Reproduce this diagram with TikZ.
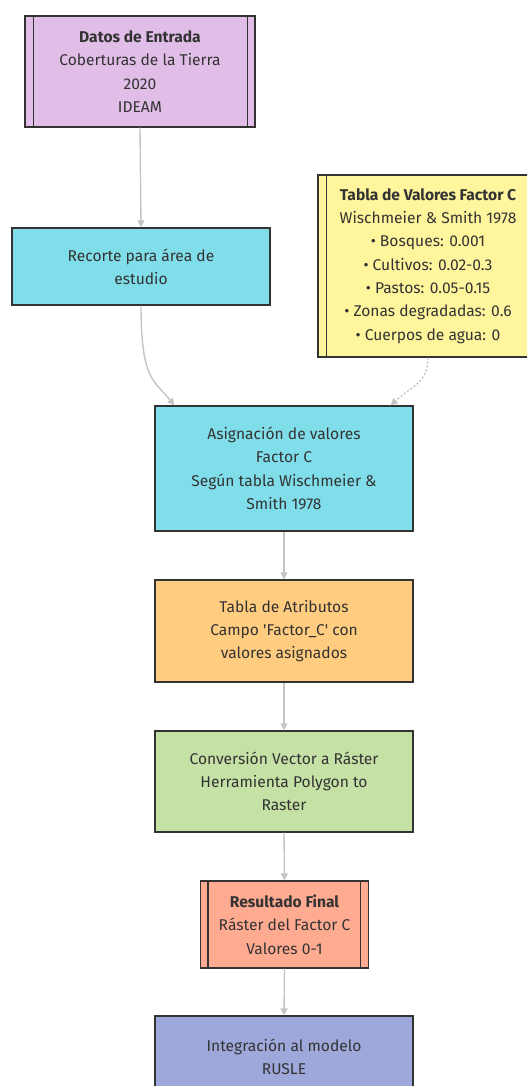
\documentclass[tikz,border=0pt]{standalone}
\usepackage{fontspec}
\setmainfont{Fira Sans}
\usetikzlibrary{arrows.meta,calc}

\definecolor{inkc}{HTML}{333333}
\definecolor{edgec}{HTML}{C4C4C4}
\definecolor{fpurple}{HTML}{E1BEE7}
\definecolor{fcyan}{HTML}{80DEEA}
\definecolor{fyellow}{HTML}{FFF59D}
\definecolor{forange}{HTML}{FFCC80}
\definecolor{fgreen}{HTML}{C5E1A5}
\definecolor{fsalmon}{HTML}{FFAB91}
\definecolor{findigo}{HTML}{9FA8DA}

\tikzset{
  box/.style={draw=inkc, line width=1.3pt, inner sep=0pt, align=center,
    text=inkc, font=\fontsize{15.6}{23.3}\selectfont},
  label/.style={inner sep=0pt, align=center, text=inkc,
    font=\fontsize{15.6}{23.3}\selectfont},
  flow/.style={draw=edgec, line width=1.4pt,
    -{Triangle[length=7pt,width=7pt]}},
  bar/.style={draw=inkc, line width=1.3pt},
}

\begin{document}
\begin{tikzpicture}[x=1pt,y=-1pt]
\useasboundingbox (0,0) rectangle (527,1086);
\clip (0,0) rectangle (527,1086);

% input data (subroutine box)
\node[box, fill=fpurple, minimum width=230pt, minimum height=111pt] (datos) at (140,71.5)
  {\textbf{Datos de Entrada}\\Coberturas de la Tierra\\2020\\IDEAM};
\draw[bar] ($(datos.north west)+(9,0)$) -- ($(datos.south west)+(9,0)$);
\draw[bar] ($(datos.north east)+(-8,0)$) -- ($(datos.south east)+(-8,0)$);

% clip to study area
\node[box, fill=fcyan, minimum width=258pt, minimum height=77pt] (recorte) at (141,266.5)
  {Recorte para área de\\estudio};

% C factor reference table (subroutine box, runs past the right margin)
\node[box, fill=fyellow, minimum width=220pt, minimum height=182pt] (tabla) at (428,266)
  {\textbf{Tabla de Valores Factor C}\\Wischmeier \& Smith 1978\\• Bosques: 0.001\\• Cultivos: 0.02-0.3\\• Pastos: 0.05-0.15\\• Zonas degradadas: 0.6\\• Cuerpos de agua: 0};
\draw[bar] ($(tabla.north west)+(9,0)$) -- ($(tabla.south west)+(9,0)$);

% value assignment
\node[box, fill=fcyan, minimum width=258pt, minimum height=125pt] (asig) at (284,468.5)
  {Asignación de valores\\Factor C\\Según tabla Wischmeier \&\\Smith 1978};

% attribute table
\node[box, fill=forange, minimum width=258pt, minimum height=102pt] (atrib) at (284,631)
  {Tabla de Atributos\\Campo \textquotesingle Factor\_C\textquotesingle\ con\\valores asignados};

% vector to raster
\node[box, fill=fgreen, minimum width=258pt, minimum height=101pt] (conv) at (284,781.5)
  {Conversión Vector a Ráster\\Herramienta Polygon to\\Raster};

% final result (subroutine box)
\node[box, fill=fsalmon, minimum width=168pt, minimum height=87pt] (res) at (284.5,924.5)
  {\textbf{Resultado Final}\\Ráster del Factor C\\Valores 0-1};
\draw[bar] ($(res.north west)+(8,0)$) -- ($(res.south west)+(8,0)$);
\draw[bar] ($(res.north east)+(-9,0)$) -- ($(res.south east)+(-9,0)$);

% RUSLE integration (cut by the bottom margin)
\node[box, fill=findigo, minimum width=258pt, minimum height=100pt] (rusle) at (284,1066) {};
\node[label] (rusletext) at (284,1056.5) {Integración al modelo\\RUSLE};

% connectors
\draw[flow] (datos.south) -- (recorte.north);
\coordinate (asigL) at ($(asig.north west)+(20,0)$);
\coordinate (asigR) at ($(asig.north east)+(-23,0)$);
\draw[flow] (recorte.south) .. controls ($(recorte.south)+(0,75)$) and ($(asigL)+(-20,-25)$) .. (asigL);
\draw[flow, dash pattern=on 2pt off 2pt] (tabla.south) .. controls ($(tabla.south)+(0,25)$) and ($(asigR)+(22,-20)$) .. (asigR);
\draw[flow] (asig.south) -- (atrib.north);
\draw[flow] (atrib.south) -- (conv.north);
\draw[flow] (conv.south) -- (res.north);
\draw[flow] (res.south) -- (rusle.north);
\end{tikzpicture}
\end{document}
